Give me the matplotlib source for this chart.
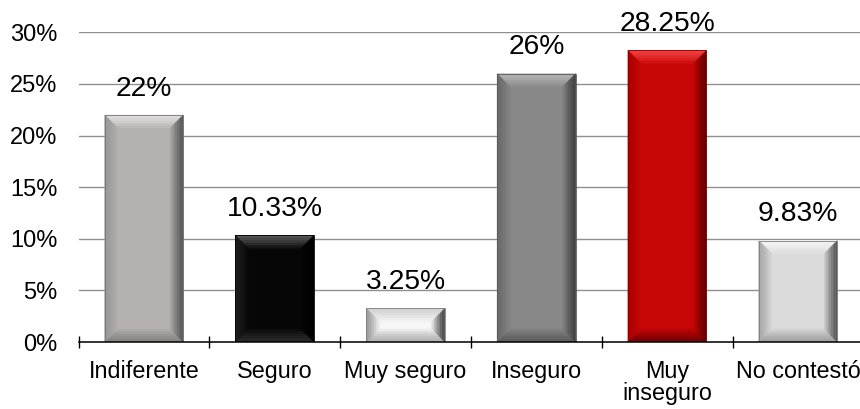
import numpy as np
import matplotlib
matplotlib.use("Agg")
import matplotlib.pyplot as plt
from matplotlib.patches import Polygon
from matplotlib.colors import to_rgb
from matplotlib.ticker import FuncFormatter, MultipleLocator

plt.rcParams['font.family'] = ['Liberation Sans', 'DejaVu Sans']

categories = ['Indiferente', 'Seguro', 'Muy seguro', 'Inseguro', 'Muy\ninseguro', 'No contestó']
values = [22, 10.33, 3.25, 26, 28.25, 9.83]
value_labels = ['22%', '10.33%', '3.25%', '26%', '28.25%', '9.83%']

# face, top bevel, bottom bevel, left bevel, right bevel
bar_styles = [
    ('#b5b1b1', '#e2dfdf', '#858282', '#9a9797', '#5a5858'),
    ('#060606', '#555555', '#2c2c2c', '#1e1e1e', '#000000'),
    ('#f6f6f6', '#d2d2d2', '#aeaeae', '#9a9a9a', '#474747'),
    ('#888888', '#b4b4b4', '#5c5c5c', '#6a6a6a', '#424242'),
    ('#c80606', '#f24040', '#760000', '#ac0000', '#660000'),
    ('#dbdbdb', '#f4f4f4', '#a0a0a0', '#a8a8a8', '#585858'),
]

W, H, DPI = 860, 409, 100
fig = plt.figure(figsize=(W / DPI, H / DPI), dpi=DPI)
ax_pos = [0.0913, 0.1638, 0.9126, 0.757]
ax = fig.add_axes(ax_pos)

ymax = 30
ax.set_xlim(0, len(categories))
ax.set_ylim(0, ymax)

# bevel size in data units (about 13 px each way)
px_x = W * ax_pos[2] / len(categories)
px_y = H * ax_pos[3] / ymax
bev_x = 13 / px_x
bev_y = 13 / px_y


def mix(c1, c2, t):
    a, b = np.array(to_rgb(c1)), np.array(to_rgb(c2))
    return tuple(a + (b - a) * t)


def bevel_bar(x0, x1, y1, style, steps=8):
    face, top, bottom, left, right = style
    bx = min(bev_x, (x1 - x0) / 2)
    by = min(bev_y, y1 / 2.3)
    ax.add_patch(Polygon([(x0, 0), (x1, 0), (x1, y1), (x0, y1)], closed=True,
                         facecolor=face, edgecolor='none', zorder=3))
    for k in range(steps):
        t0, t1 = k / steps, (k + 1) / steps
        c = lambda col: mix(col, face, t0 ** 1.3)
        ox0, ox1 = x0 + t0 * bx, x1 - t0 * bx
        ix0, ix1 = x0 + t1 * bx, x1 - t1 * bx
        oy0, oy1 = t0 * by, y1 - t0 * by
        iy0, iy1 = t1 * by, y1 - t1 * by
        bands = [
            ([(ox0, oy1), (ox1, oy1), (ix1, iy1), (ix0, iy1)], c(top)),
            ([(ox0, oy0), (ox1, oy0), (ix1, iy0), (ix0, iy0)], c(bottom)),
            ([(ox0, oy0), (ox0, oy1), (ix0, iy1), (ix0, iy0)], c(left)),
            ([(ox1, oy0), (ox1, oy1), (ix1, iy1), (ix1, iy0)], c(right)),
        ]
        for pts, col in bands:
            ax.add_patch(Polygon(pts, closed=True, facecolor=col,
                                 edgecolor=col, linewidth=0.3, zorder=3))
    ax.add_patch(Polygon([(x0, 0), (x1, 0), (x1, y1), (x0, y1)], closed=True,
                         facecolor='none', edgecolor=mix(right, face, 0.3),
                         linewidth=0.6, zorder=4))


width = 0.6
centers = np.arange(len(categories)) + 0.5
for xc, v, style, lab in zip(centers, values, bar_styles, value_labels):
    bevel_bar(xc - width / 2, xc + width / 2, v, style)
    ax.annotate(lab, (xc, v), xytext=(0, 14), textcoords='offset points',
                ha='center', va='baseline', fontsize=20.3, color='black',
                annotation_clip=False, zorder=5)

# axes styling
ax.yaxis.set_major_locator(MultipleLocator(5))
ax.yaxis.set_major_formatter(FuncFormatter(lambda v, p: f'{v:.0f}%'))
ax.grid(axis='y', color='#8f8f8f', linewidth=1.0, zorder=0)
ax.set_axisbelow(True)
for s in ['top', 'right', 'left']:
    ax.spines[s].set_visible(False)
ax.spines['bottom'].set_color('black')
ax.spines['bottom'].set_linewidth(1.1)
ax.spines['bottom'].set_zorder(6)
ax.tick_params(axis='y', length=0, pad=15, labelsize=17, labelcolor='black')

ax.set_xticks(np.arange(len(categories) + 1))
ax.set_xticklabels([])
ax.set_xticks(centers, minor=True)
ax.set_xticklabels(categories, minor=True, fontsize=16.8, color='black',
                   linespacing=0.95)
ax.tick_params(axis='x', which='major', direction='inout', length=9,
               width=1.0, color='black')
ax.tick_params(axis='x', which='minor', length=0, pad=13)

fig.savefig('out.png', dpi=DPI)
